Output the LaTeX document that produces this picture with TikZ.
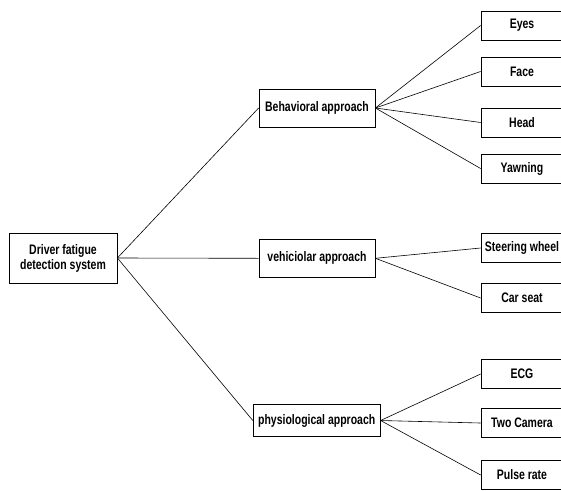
\documentclass[tikz,border=0pt]{standalone}
\usepackage{fontspec}
\setmainfont{Liberation Sans}[FakeStretch=0.76]
\usepackage{tikz}

\begin{document}
\begin{tikzpicture}[
        x=1pt, y=-1pt,
        box/.style={draw, line width=0.8pt, align=center, inner sep=0pt, font=\bfseries\fontsize{13.8}{15}\selectfont},
        leaf/.style={box, minimum width=82pt, minimum height=29pt},
        approach/.style={box, minimum width=116pt, minimum height=38pt},
        link/.style={line width=0.6pt}
    ]
    \useasboundingbox (0,0) rectangle (561,490);
    \clip (0,0) rectangle (561,490);
    % Nodes
    \node[box, minimum width=108pt, minimum height=50pt] (driverSystem) at (63,258) {Driver fatigue \\ detection system};
    \node[approach] (behavioral) at (317,108) {Behavioral approach};
    \node[approach] (vehicular) at (317,258.3) {vehiciolar approach};
    \node[box, minimum width=127pt, minimum height=32.5pt] (physiological) at (316.7,420.5) {physiological approach};

    \node[leaf] (eyes) at (522,25.5) {Eyes};
    \node[leaf] (face) at (522,71.5) {Face};
    \node[leaf] (head) at (522,122.5) {Head};
    \node[leaf] (yawning) at (522,168.5) {Yawning};
    \node[leaf] (steering) at (522,248) {Steering wheel};
    \node[leaf] (carSeat) at (522,298) {Car seat};
    \node[leaf] (ecg) at (522,374) {ECG};
    \node[leaf] (twoCamera) at (522,423) {Two Camera};
    \node[leaf] (pulseRate) at (522,475) {Pulse rate};
    % Lines
    \draw[link] (driverSystem.east) -- (behavioral.west);
    \draw[link] (driverSystem.east) -- (vehicular.west);
    \draw[link] (driverSystem.east) -- (physiological.west);

    \draw[link] (behavioral.east) -- (eyes.west);
    \draw[link] (behavioral.east) -- (face.west);
    \draw[link] (behavioral.east) -- (head.west);
    \draw[link] (behavioral.east) -- (yawning.west);

    \draw[link] (vehicular.east) -- (steering.west);
    \draw[link] (vehicular.east) -- (carSeat.west);

    \draw[link] (physiological.east) -- (ecg.west);
    \draw[link] (physiological.east) -- (twoCamera.west);
    \draw[link] (physiological.east) -- (pulseRate.west);

    \end{tikzpicture}
\end{document}
